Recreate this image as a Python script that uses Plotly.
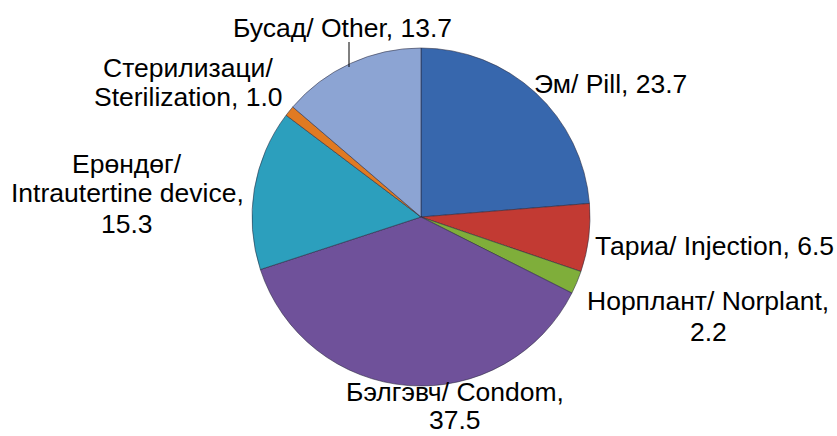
import plotly.graph_objects as go

# Data
labels_mn = ["Эм/", "Тариа/", "Норплант/", "Бэлгэвч/", "Ерөндөг/", "Стерилизаци/", "Бусад/"]
labels_en = ["Pill", "Injection", "Norplant", "Condom", "Intrautertine device", "Sterilization", "Other"]
values = [23.7, 6.5, 2.2, 37.5, 15.3, 1.0, 13.7]

colors = ["#3767ad", "#c23a33", "#7fae3a", "#6f519a", "#2c9fbd", "#e07a22", "#8ca4d3"]

W, H = 837, 436

fig = go.Figure(go.Pie(
    labels=[f"{a} {b}" for a, b in zip(labels_mn, labels_en)],
    values=values,
    sort=False,
    direction="clockwise",
    rotation=0,
    textinfo="none",
    hoverinfo="label+value",
    marker=dict(colors=colors, line=dict(color="rgba(40,40,60,0.55)", width=1)),
    domain=dict(x=[(421 - 169) / W, (421 + 169) / W], y=[1 - 386 / H, 1 - 48 / H]),
    showlegend=False,
))

# label line layout (pixel centers), text built from data
def lines_for(i):
    mn, en, v = labels_mn[i], labels_en[i], f"{values[i]:.1f}"
    if i in (0, 1, 6):
        return [f"{mn} {en}, {v}"]
    if i in (2, 3):
        return [f"{mn} {en},", v]
    if i == 4:
        return [mn, f"{en},", v]
    return [mn, f"{en}, {v}"]

label_pos = [
    (610, [84]),
    (714, [246]),
    (708, [301, 332]),
    (455, [392, 420]),
    (127, [164, 193, 224]),
    (188, [68, 97]),
    (342, [28]),
]

font = dict(family="Liberation Sans, Arial", size=26.5, color="#000000")
ann = []
for i, (px, pys) in enumerate(label_pos):
    for txt, py in zip(lines_for(i), pys):
        ann.append(dict(x=px / W, y=1 - py / H, xref="paper", yref="paper",
                        text=txt, showarrow=False, xanchor="center", yanchor="middle",
                        font=font))

fig.update_layout(
    width=W, height=H,
    margin=dict(l=0, r=0, t=0, b=0),
    paper_bgcolor="white", plot_bgcolor="white",
    annotations=ann,
    shapes=[dict(type="line", xref="paper", yref="paper",
                 x0=349 / W, x1=349 / W, y0=1 - 42 / H, y1=1 - 67 / H,
                 line=dict(color="#000000", width=1))],
)

fig.write_html("out.html", config={"displayModeBar": False},
               post_script="document.body.style.margin='0';")
